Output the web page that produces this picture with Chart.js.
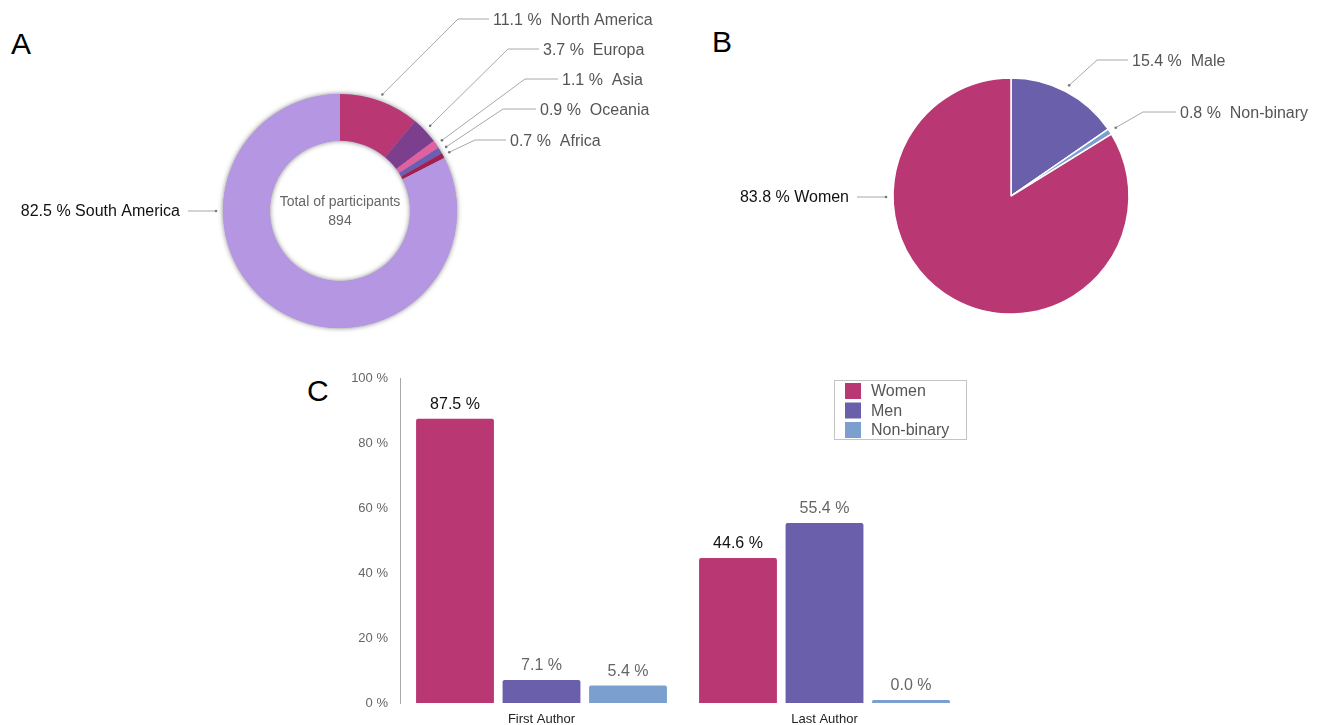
<!DOCTYPE html>
<html>
<head>
<meta charset="utf-8">
<script src="https://cdn.jsdelivr.net/npm/chart.js@4.4.0/dist/chart.umd.min.js"></script>
<style>
  html, body { margin: 0; padding: 0; background: #fff; }
  body { width: 1328px; height: 725px; position: relative; overflow: hidden; font-family: "Liberation Sans", Arial, sans-serif; }
  canvas { position: absolute; left: 0; top: 0; pointer-events: none; }
  .panel { position: absolute; font-size: 30px; line-height: 30px; color: #000; }
</style>
</head>
<body>
<div class="panel" style="left:11px;top:29px">A</div>
<div class="panel" style="left:712px;top:27px">B</div>
<div class="panel" style="left:307px;top:376px">C</div>
<canvas id="regionChart" width="1328" height="725"></canvas>
<canvas id="genderChart" width="1328" height="725"></canvas>
<canvas id="authorChart" width="1328" height="725"></canvas>
<script>
// --- data ---
const regionLabels = ["North America", "Europa", "Asia", "Oceania", "Africa", "South America"];
const regionValues = [11.1, 3.7, 1.1, 0.9, 0.7, 82.5];
const regionColors = ["#b93772", "#7b3f8e", "#e0619e", "#6a5fb0", "#a0204e", "#b596e2"];
const totalParticipants = 894;

const genderLabels = ["Male", "Non-binary", "Women"];
const genderValues = [15.4, 0.8, 83.8];
const genderColors = ["#6a5fab", "#7b9fd0", "#b93772"];

const authorCategories = ["First Author", "Last Author"];
const womenAuthors = [87.5, 44.6];
const menAuthors = [7.1, 55.4];
const nonBinaryAuthors = [5.4, 0.0];
const seriesNames = ["Women", "Men", "Non-binary"];
const seriesColors = ["#b93772", "#6a5fab", "#7b9fcf"];
const percentTicks = [0, 20, 40, 60, 80, 100];

const FONT = '"Liberation Sans", Arial, sans-serif';

// leader lines + labels for pie / doughnut slices
const leaderLabels = {
  id: "leaderLabels",
  afterDraw(chart, args, opts) {
    const ctx = chart.ctx;
    const meta = chart.getDatasetMeta(0);
    const values = chart.data.datasets[0].data;
    const names = chart.data.labels;
    ctx.save();
    ctx.font = "16px " + FONT;
    ctx.textBaseline = "middle";
    opts.items.forEach((it, i) => {
      const arc = meta.data[i];
      const p = arc.getProps(["x", "y", "startAngle", "endAngle", "outerRadius"], true);
      let ax, ay;
      ctx.strokeStyle = "#a8a8a8";
      ctx.lineWidth = 1;
      ctx.beginPath();
      if (it.side === "left") {
        ay = it.y;
        ax = p.x - Math.sqrt(p.outerRadius * p.outerRadius - (ay - p.y) * (ay - p.y)) - 7;
        ctx.moveTo(it.textRight + 8, ay);
        ctx.lineTo(ax, ay);
        ctx.stroke();
        ctx.fillStyle = "#111";
        ctx.textAlign = "right";
        ctx.fillText(values[i].toFixed(1) + " % " + names[i], it.textRight, ay + 1);
      } else {
        const mid = (p.startAngle + p.endAngle) / 2;
        ax = p.x + Math.cos(mid) * (p.outerRadius + 7);
        ay = p.y + Math.sin(mid) * (p.outerRadius + 7);
        ctx.moveTo(ax, ay);
        ctx.lineTo(it.elbow[0], it.elbow[1]);
        ctx.lineTo(it.textX - 4, it.elbow[1]);
        ctx.stroke();
        ctx.fillStyle = "#555";
        ctx.textAlign = "left";
        ctx.fillText(values[i].toFixed(1) + " %  " + names[i], it.textX, it.elbow[1] + 2);
      }
      ctx.fillStyle = "#777";
      ctx.beginPath();
      ctx.arc(ax, ay, 1.3, 0, Math.PI * 2);
      ctx.fill();
    });
    ctx.restore();
  },
};

// soft grey rim around the ring + centre caption
const ringDecor = {
  id: "ringDecor",
  beforeDatasetsDraw(chart) {
    const arc = chart.getDatasetMeta(0).data[0];
    const { x, y, outerRadius, innerRadius } = arc.getProps(["x", "y", "outerRadius", "innerRadius"], true);
    const ctx = chart.ctx;
    ctx.save();
    ctx.shadowColor = "rgba(0,0,0,0.5)";
    ctx.shadowBlur = 5;
    ctx.fillStyle = "#b596e2";
    ctx.beginPath();
    ctx.arc(x, y, outerRadius, 0, Math.PI * 2);
    ctx.arc(x, y, innerRadius, 0, Math.PI * 2, true);
    ctx.fill("evenodd");
    ctx.restore();
  },
  afterDraw(chart) {
    const arc = chart.getDatasetMeta(0).data[0];
    const ctx = chart.ctx;
    ctx.save();
    ctx.fillStyle = "#666";
    ctx.font = "14px " + FONT;
    ctx.textAlign = "center";
    ctx.textBaseline = "middle";
    ctx.fillText("Total of participants", arc.x, arc.y - 9);
    ctx.fillText(String(totalParticipants), arc.x, arc.y + 10);
    ctx.restore();
  },
};

new Chart(document.getElementById("regionChart"), {
  type: "doughnut",
  data: {
    labels: regionLabels,
    datasets: [{
      data: regionValues,
      backgroundColor: regionColors,
      borderWidth: 0,
      hoverOffset: 0,
    }],
  },
  options: {
    responsive: false,
    animation: false,
    radius: 117,
    cutout: 72,
    layout: { padding: { left: 220, right: 868, top: 91, bottom: 394 } },
    plugins: {
      legend: { display: false },
      tooltip: { enabled: false },
      leaderLabels: {
        items: [
          { elbow: [458, 19], textX: 493 },
          { elbow: [508, 49], textX: 543 },
          { elbow: [525, 79], textX: 562 },
          { elbow: [503, 109], textX: 540 },
          { elbow: [475, 140], textX: 510 },
          { side: "left", y: 211, textRight: 180 },
        ],
      },
    },
  },
  plugins: [ringDecor, leaderLabels],
});

new Chart(document.getElementById("genderChart"), {
  type: "pie",
  data: {
    labels: genderLabels,
    datasets: [{
      data: genderValues,
      backgroundColor: genderColors,
      borderColor: "#fff",
      borderWidth: 1.5,
      hoverOffset: 0,
    }],
  },
  options: {
    responsive: false,
    animation: false,
    radius: 118,
    layout: { padding: { left: 891, right: 197, top: 76, bottom: 409 } },
    plugins: {
      legend: { display: false },
      tooltip: { enabled: false },
      leaderLabels: {
        items: [
          { elbow: [1097, 60], textX: 1132 },
          { elbow: [1143, 112], textX: 1180 },
          { side: "left", y: 197, textRight: 849 },
        ],
      },
    },
  },
  plugins: [leaderLabels],
});

// value labels above bars + boxed legend
const barDecor = {
  id: "barDecor",
  afterDatasetsDraw(chart) {
    const ctx = chart.ctx;
    ctx.save();
    ctx.font = "16px " + FONT;
    ctx.textAlign = "center";
    ctx.textBaseline = "middle";
    chart.data.datasets.forEach((ds, di) => {
      chart.getDatasetMeta(di).data.forEach((bar, i) => {
        ctx.fillStyle = di === 0 ? "#111" : "#666";
        ctx.fillText(ds.data[i].toFixed(1) + " %", bar.x, bar.y - 14);
      });
    });
    // legend box
    const bx = 834, by = 380, bw = 132, bh = 59;
    ctx.strokeStyle = "#c4c4c4";
    ctx.lineWidth = 1;
    ctx.strokeRect(bx + 0.5, by + 0.5, bw, bh);
    ctx.textAlign = "left";
    chart.data.datasets.forEach((ds, di) => {
      const cy = by + 11 + di * 19.5;
      ctx.fillStyle = ds.backgroundColor;
      ctx.fillRect(bx + 11, cy - 8, 16, 16);
      ctx.fillStyle = "#555";
      ctx.fillText(ds.label, bx + 37, cy + 1);
    });
    ctx.restore();
  },
};

new Chart(document.getElementById("authorChart"), {
  type: "bar",
  data: {
    labels: authorCategories,
    datasets: [
      { label: seriesNames[0], data: womenAuthors, backgroundColor: seriesColors[0] },
      { label: seriesNames[1], data: menAuthors, backgroundColor: seriesColors[1] },
      { label: seriesNames[2], data: nonBinaryAuthors, backgroundColor: seriesColors[2], minBarLength: 3 },
    ],
  },
  options: {
    responsive: false,
    animation: false,
    categoryPercentage: 0.917,
    barPercentage: 0.9,
    borderRadius: 2,
    borderSkipped: "bottom",
    layout: { padding: { left: 330, right: 362, top: 378, bottom: 0 } },
    plugins: { legend: { display: false }, tooltip: { enabled: false } },
    scales: {
      x: {
        grid: { display: false, drawTicks: false },
        border: { display: false },
        ticks: { color: "#222", font: { family: FONT, size: 13 }, padding: 9 },
        afterFit: (s) => { s.height = 22; },
      },
      y: {
        min: 0,
        max: 100,
        afterBuildTicks: (s) => { s.ticks = percentTicks.map((v) => ({ value: v })); },
        grid: { display: false, drawTicks: false },
        border: { display: true, color: "#aaa" },
        ticks: { color: "#666", font: { family: FONT, size: 13 }, padding: 12, callback: (v) => v + " %" },
        afterFit: (s) => { s.width = 70; },
      },
    },
  },
  plugins: [barDecor],
});
</script>
</body>
</html>
